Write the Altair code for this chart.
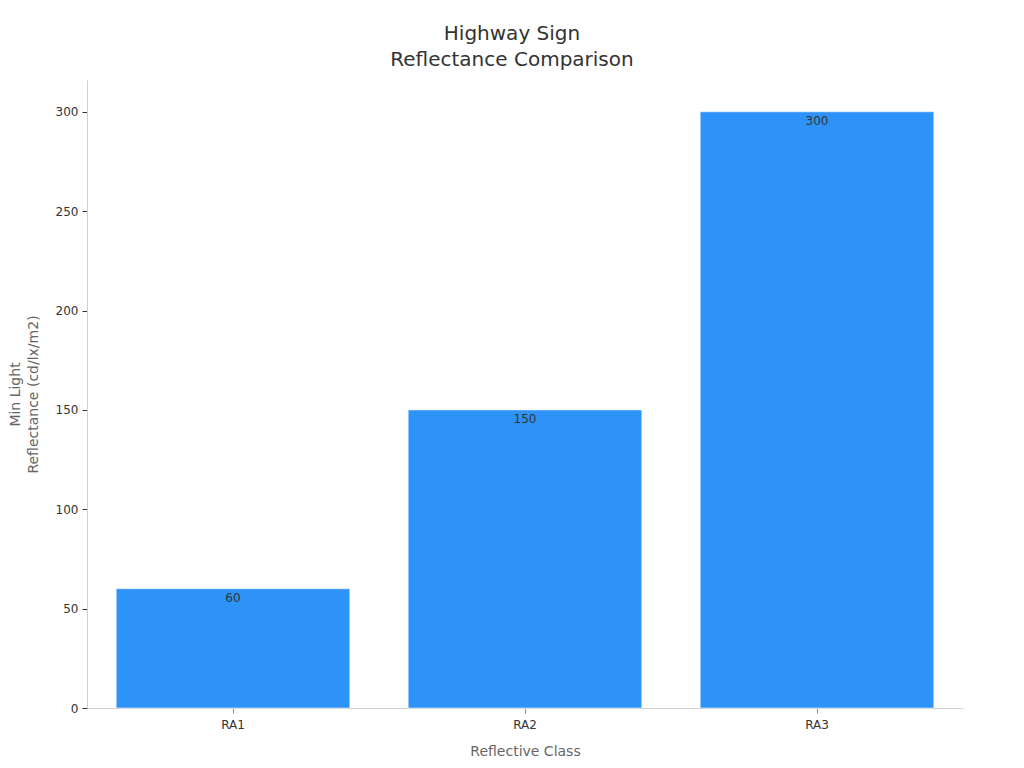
import altair as alt
import pandas as pd

classes = ["RA1", "RA2", "RA3"]
values = [60, 150, 300]

df = pd.DataFrame({"cls": classes, "val": values})

base = alt.Chart(df).encode(
    x=alt.X("cls:N", sort=classes,
            scale=alt.Scale(paddingInner=0.2, paddingOuter=0.1),
            axis=alt.Axis(title="Reflective Class", labelAngle=0, labelFontSize=12,
                          labelColor="#333333", titleFontSize=14, titleColor="#666666",
                          titleFontWeight="normal", titlePadding=14, labelPadding=6,
                          domainColor="#d0d0d0", tickColor="#888888", tickSize=5,
                          labelFont="DejaVu Sans", titleFont="DejaVu Sans")),
    y=alt.Y("val:Q", scale=alt.Scale(domain=[0, 316], nice=False),
            axis=alt.Axis(title=["Min Light", "Reflectance (cd/lx/m2)"], values=[0, 50, 100, 150, 200, 250, 300],
                          grid=False, labelFontSize=12, labelColor="#333333",
                          titleFontSize=14, titleColor="#666666", titleFontWeight="normal",
                          titlePadding=15, titleLineHeight=18, labelPadding=4, domainColor="#d0d0d0",
                          tickColor="#333333", tickSize=5,
                          labelFont="DejaVu Sans", titleFont="DejaVu Sans")),
)

bars = base.mark_bar(color="#2E93F8", stroke="#ffffff", strokeOpacity=0.5, strokeWidth=1)
labels = base.mark_text(baseline="top", dy=4, fontSize=12, color="#333333", font="DejaVu Sans").encode(
    text=alt.Text("val:Q")
)

chart = (bars + labels).properties(
    width=876, height=628,
    title=alt.TitleParams(["Highway Sign", "Reflectance Comparison"], fontSize=20,
                          font="DejaVu Sans", fontWeight="normal", color="#333333",
                          anchor="middle", offset=10, lineHeight=26, dx=-13),
    autosize=alt.AutoSizeParams(type="none"),
    padding={"left": 79, "top": 72, "right": 53, "bottom": 52},
).configure(background="white").configure_view(stroke="transparent", strokeWidth=0)

chart.save("out.html", embed_options={"renderer": "svg", "actions": False})
